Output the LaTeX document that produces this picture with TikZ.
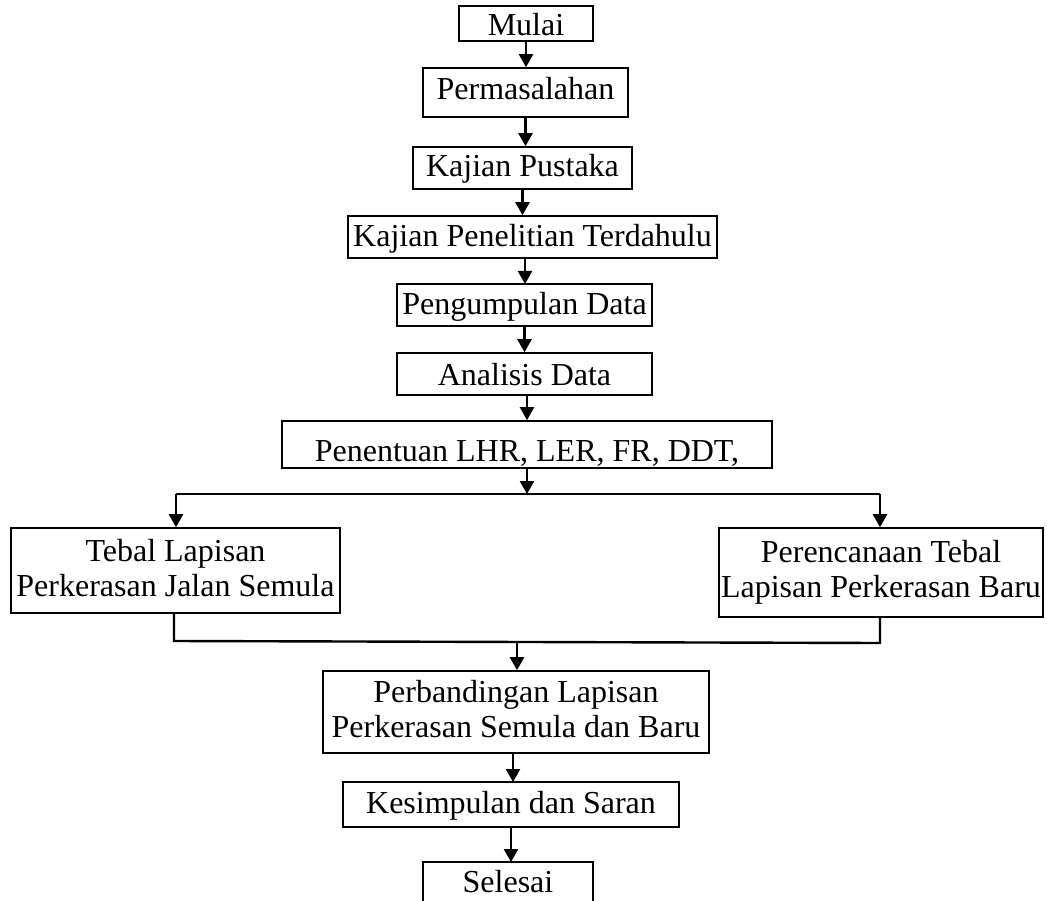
\documentclass[tikz,border=0pt]{standalone}
\usepackage{fontspec}
\setmainfont{Liberation Serif}
\usetikzlibrary{arrows.meta}
\newcommand{\dstrut}{\rule[-6pt]{0pt}{6pt}}
\begin{document}
\begin{tikzpicture}[x=1pt,y=-1pt,
  box/.style={draw, line width=1.6pt, inner sep=0pt, align=center,
    font=\fontsize{32}{35}\selectfont},
  one/.style={box, text height=22pt, text depth=#1},
  one/.default=7pt,
  conn/.style={line width=2.4pt},
  arr/.style={conn, -{Triangle[length=13pt,width=14pt]}}]
\useasboundingbox[fill=white] (0,0) rectangle (1047,901);
% boxes
\node[one=5pt, text height=30pt, minimum width=134pt, minimum height=35pt] (mulai) at (526,23.5) {Mulai};
\node[one=7pt, minimum width=205pt, minimum height=49pt] (perm) at (525.5,92.5) {Permasalahan};
\node[one=4pt, minimum width=219pt, minimum height=42pt] (kp) at (522.5,168) {Kajian Pustaka};
\node[one=2pt, minimum width=369pt, minimum height=42pt] (kpt) at (532.5,237) {Kajian Penelitian Terdahulu};
\node[one=2pt, minimum width=255pt, minimum height=42pt] (peng) at (524.5,305) {Pengumpulan Data};
\node[one=0pt, minimum width=255pt, minimum height=42pt] (anal) at (524.5,374) {Analisis Data};
\node[one=2pt, text height=35pt, minimum width=490pt, minimum height=47pt] (pen) at (527,444.5) {Penentuan LHR, LER, FR, DDT,};
\node[box, minimum width=329pt, minimum height=85pt] (left) at (175.5,570.5) {Tebal Lapisan\\Perkerasan Jalan Semula\dstrut};
\node[box, minimum width=324pt, minimum height=89pt] (right) at (881,572.5) {Perencanaan Tebal\\Lapisan Perkerasan Baru\dstrut};
\node[box, minimum width=386pt, minimum height=82pt] (perb) at (516,712) {Perbandingan Lapisan\\Perkerasan Semula dan Baru\dstrut};
\node[one=5pt, minimum width=336pt, minimum height=45pt] (kes) at (511,804.5) {Kesimpulan dan Saran};
\node[one=6pt, minimum width=170pt, minimum height=44pt] (sel) at (508,884) {Selesai};
% straight arrows
\draw[arr] (mulai.south) -- (mulai.south |- perm.north);
\draw[arr] (perm.south) -- (perm.south |- kp.north);
\draw[arr] (kp.south) -- (kp.south |- kpt.north);
\draw[arr] (525,258) -- (525,284);
\draw[arr] (peng.south) -- (peng.south |- anal.north);
\draw[arr] (527,395) -- (pen.north);
% branch
\coordinate (sp) at (527,494);
\coordinate (lc) at (176,494);
\coordinate (rc) at (880,494);
\draw[arr] (pen.south) -- (sp);
\draw[conn] (lc) -- (rc);
\draw[arr] (lc) -- (lc |- left.north);
\draw[arr] (rc) -- (rc |- right.north);
% merge
\coordinate (ml) at (174,641);
\coordinate (mr) at (880,643);
\coordinate (mj) at (517,642);
\draw[conn] (ml |- left.south) -- (ml) -- (mr) -- (mr |- right.south);
\draw[arr] (mj) -- (mj |- perb.north);
\draw[arr] (513,753) -- (513,782);
\draw[arr] (511,827) -- (511,862);
\end{tikzpicture}
\end{document}
